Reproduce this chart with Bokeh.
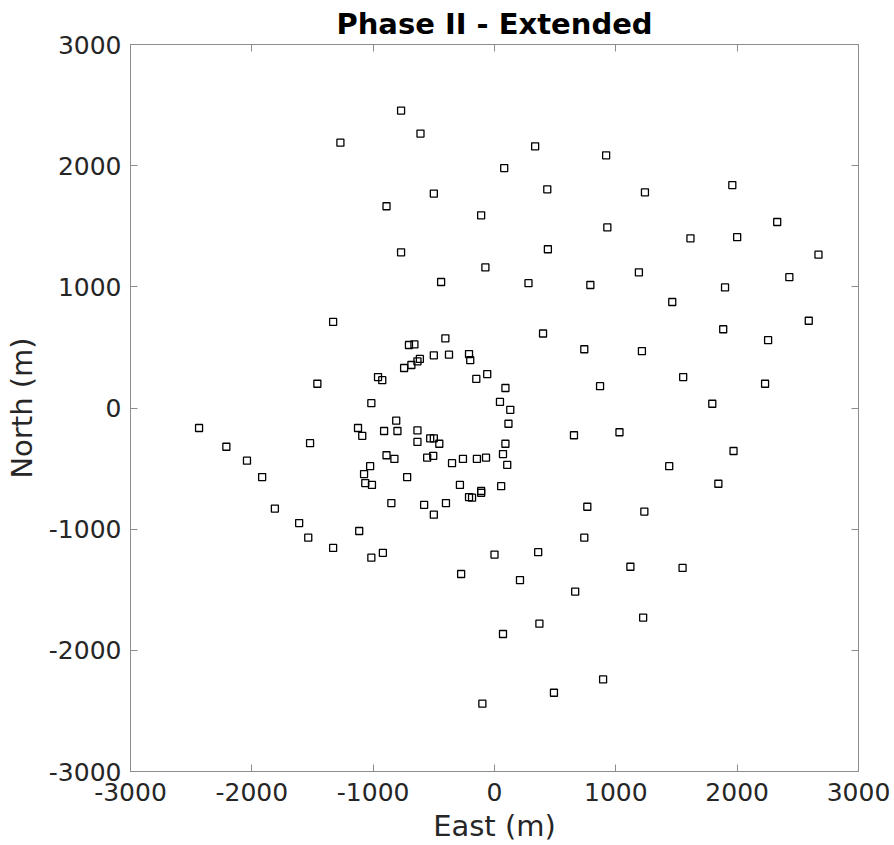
from bokeh.plotting import figure
from bokeh.models import LinearAxis, FixedTicker, Range1d, ColumnDataSource, CustomJSTickFormatter
from bokeh.embed import file_html
from bokeh.resources import INLINE

east = [-770, -610, -1270, -500, -890, -110, -770, -75, -440, -1330, -405,
        335, 920, 80, 435, 1240, 1960, 930, 1615, 2000, 2330, 440, 2670, 280, 790,
        1190, 1900, 2430, 1465, 2590, 400, 1885, 2255,
        -705, -660, -500, -375, -210, -200, -615, -635, -685, -745, -60, -150,
        -960, -925, -1460, -1015, -2435, -2210, -2040, -1915, -1810, -1610, -1535,
        -1330, -1115, -1015, -920, -1520, -1125, -1090, -810, -910, -800, -635,
        -635, -530, -500, -455, -890, -825, -1025, -1075, -1065, -1010, -720,
        -555, -505, -350, -260, -145, -70, -285, -210, -185, -110, -110, -850,
        -580, -400, -500, 0, -275, -100,
        740, 1215, 1555, 2230, 90, 870, 45, 130, 1795, 115, 655, 1030, 1970, 90,
        70, 105, 1440, 1845, 55, 765, 1235, 740, 360, 1120, 1550, 210, 665, 1225,
        370, 70, 895, 490]
north = [2455, 2265, 2190, 1770, 1665, 1590, 1285, 1160, 1040, 710, 575,
         2160, 2085, 1980, 1805, 1780, 1840, 1490, 1400, 1410, 1535, 1310, 1265,
         1030, 1015, 1120, 995, 1080, 875, 720, 615, 650, 560,
         520, 525, 435, 440, 445, 395, 405, 385, 355, 330, 280, 240,
         255, 230, 200, 40, -165, -320, -435, -570, -830, -950, -1070,
         -1155, -1015, -1235, -1195, -290, -165, -230, -105, -190, -190, -185,
         -280, -250, -250, -295, -390, -420, -480, -545, -620, -635, -570,
         -410, -395, -455, -420, -420, -410, -635, -735, -740, -685, -700, -785,
         -800, -785, -880, -1210, -1370, -2440,
         485, 470, 255, 200, 165, 180, 50, -15, 35, -130, -225, -200, -355, -295,
         -380, -470, -480, -625, -645, -815, -855, -1070, -1190, -1310, -1320,
         -1420, -1515, -1730, -1780, -1865, -2240, -2350]
ticks = [-3000, -2000, -1000, 0, 1000, 2000, 3000]
title_text = "Phase II - Extended"
x_label = "East (m)"
y_label = "North (m)"

FONT = "DejaVu Sans"
TXT = "#262626"
AX = "#8c8c8c"

p = figure(width=894, height=845, output_backend="svg", toolbar_location=None,
           x_range=Range1d(-3000, 3000), y_range=Range1d(-3000, 3000),
           min_border_left=130, min_border_right=36, min_border_top=44,
           min_border_bottom=74, x_axis_type=None, y_axis_type=None)
p.outline_line_color = None
p.grid.visible = False

p.title.text = title_text
p.title.align = "center"
p.title.text_font = FONT
p.title.text_font_size = "29px"
p.title.text_font_style = "bold"
p.title.text_color = "black"
p.title.standoff = 8

def style(ax, labels=True):
    ax.ticker = FixedTicker(ticks=ticks)
    ax.axis_line_color = AX
    ax.major_tick_line_color = AX
    ax.major_tick_in = 7
    ax.major_tick_out = 0
    ax.minor_tick_line_color = None
    ax.axis_line_width = 1
    ax.major_tick_line_width = 1
    ax.major_label_text_font = FONT
    ax.major_label_text_font_size = "25px"
    ax.major_label_text_color = TXT
    ax.axis_label_text_font = FONT
    ax.axis_label_text_font_size = "29px"
    ax.axis_label_text_font_style = "normal"
    ax.axis_label_text_color = TXT
    if labels:
        ax.formatter = CustomJSTickFormatter(code="return tick.toFixed(0);")
    else:
        ax.formatter = CustomJSTickFormatter(code="return '';")
        ax.major_label_standoff = 0

xb = LinearAxis(axis_label=x_label)
style(xb)
xb.major_label_standoff = 11
xb.axis_label_standoff = 5
yl = LinearAxis(axis_label=y_label)
style(yl)
yl.major_label_standoff = 9
yl.axis_label_standoff = 7
xt = LinearAxis()
style(xt, labels=False)
yr = LinearAxis()
style(yr, labels=False)
p.add_layout(xb, "below")
p.add_layout(yl, "left")
p.add_layout(xt, "above")
p.add_layout(yr, "right")

src = ColumnDataSource(dict(east=east, north=north))
p.scatter("east", "north", source=src, marker="square", size=7,
          line_color="black", line_width=1.3, fill_alpha=0)

open("out.html", "w").write(file_html(p, INLINE))
